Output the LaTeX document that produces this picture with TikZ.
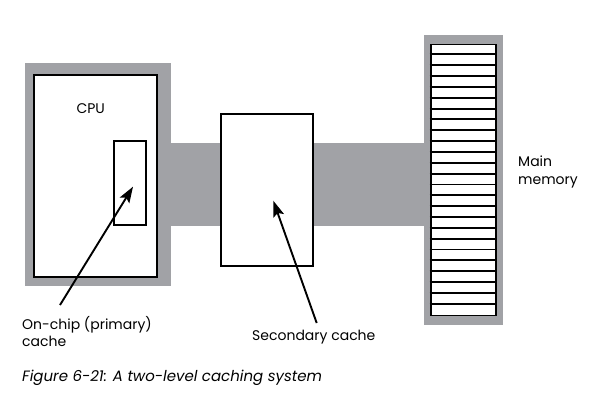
\documentclass[tikz,border=0pt]{standalone}
\usepackage{fontspec}
\setmainfont{Poppins}
\usepackage{tikz}
\usetikzlibrary{positioning, arrows.meta}

\definecolor{busgray}{RGB}{161,162,166}

\tikzset{
  frame/.style={fill=busgray, draw=none, inner sep=0pt},
  unit/.style={draw, line width=1.9pt, fill=white, inner sep=0pt},
  label/.style={font=\fontsize{14}{17.5}\selectfont, align=left, inner sep=0pt},
  pointer/.style={-{Stealth[length=16pt, width=11pt, inset=3pt]}, line width=1.9pt}
}

\begin{document}
\begin{tikzpicture}[x=1pt, y=-1pt]
    \useasboundingbox (0,0) rectangle (602,400);

    % Define nodes
    \node[frame, minimum width=145.7pt, minimum height=222.7pt] (cpuframe) at (97.9,174.7) {};
    \node[frame, minimum width=255pt, minimum height=83.5pt] (bus) at (297.5,184.3) {};
    \node[frame, minimum width=79.3pt, minimum height=290pt] (memframe) at (463.7,180) {};

    \node[unit, minimum width=122.7pt, minimum height=202.7pt] (cpu) at (95.3,176) {};
    \node[label] (cpulabel) at (90.7,109) {CPU};
    \node[unit, minimum width=32.3pt, minimum height=83.7pt] (l1) at (129.8,183.2) {};
    \node[unit, minimum width=92.6pt, minimum height=152pt] (l2) at (267,190) {};
    \node[unit, minimum width=65.3pt, minimum height=271pt] (mem) at (463.3,180) {};

    \foreach \i in {1,...,24}
        \draw[line width=1.9pt] ([yshift=-\i*10.84pt]mem.north west) -- ([yshift=-\i*10.84pt]mem.north east);

    \node[label, anchor=west] (memlabel) at (518,172) {Main\\memory};
    \node[label, anchor=north west] (l1label) at (22,316) {On-chip (primary)\\cache};
    \node[label, anchor=north west] (l2label) at (252,330) {Secondary cache};
    \node[label, anchor=west, font=\fontsize{15}{18}\selectfont\itshape] (caption) at (22,378)
        {Figure 6-21: A two-level caching system};

    \coordinate (l1tail) at (60,305);
    \coordinate (l1tip) at (133,186.7);
    \coordinate (l2tail) at (316.7,323);
    \coordinate (l2tip) at (273.3,200.7);

    % Draw arrows
    \draw[pointer] (l1tail) -- (l1tip);
    \draw[pointer] (l2tail) -- (l2tip);
\end{tikzpicture}
\end{document}
